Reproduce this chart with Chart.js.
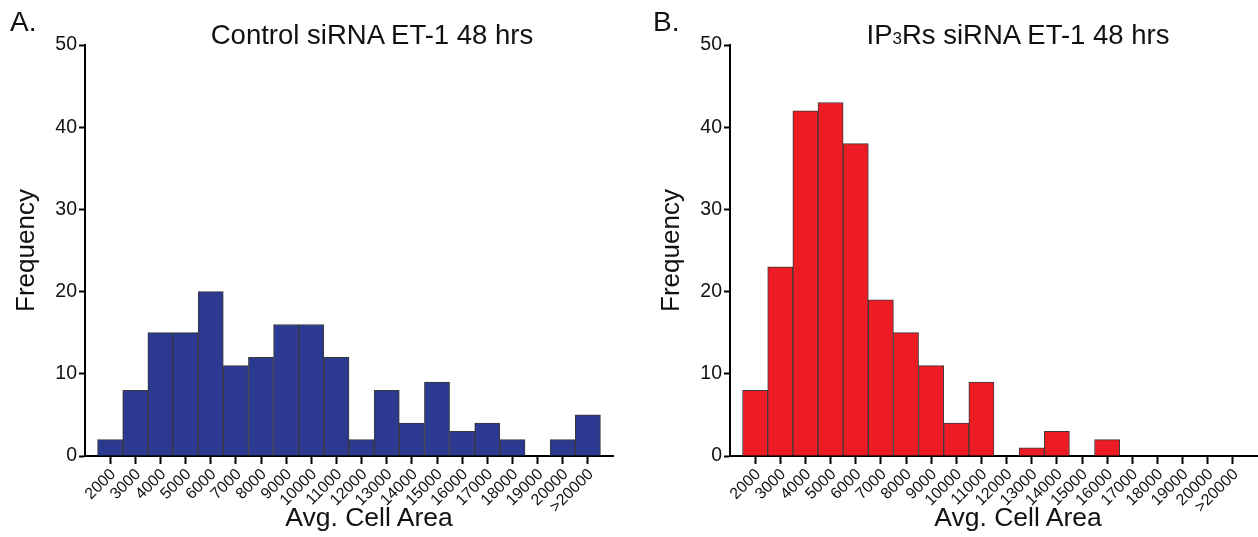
<!DOCTYPE html>
<html>
<head>
<meta charset="utf-8">
<script src="https://cdn.jsdelivr.net/npm/chart.js@4.4.1/dist/chart.umd.min.js"></script>
<style>
  body { margin: 0; background: #fff; font-family: "Liberation Sans", Arial, sans-serif; }
  #wrap { position: relative; width: 1258px; height: 537px; overflow: hidden; }
  .cv { position: absolute; top: 0; }
  .txt { position: absolute; line-height: 1; white-space: nowrap; color: #111; }
  .ctr { transform: translateX(-50%); }
</style>
</head>
<body>
<div id="wrap">
  <div class="cv" style="left:0;width:630px;height:537px;"><canvas id="chartA"></canvas></div>
  <div class="cv" style="left:645px;width:613px;height:537px;"><canvas id="chartB"></canvas></div>

  <div class="txt" style="left:10px;top:8px;font-size:28px;">A.</div>
  <div class="txt ctr" style="left:372px;top:21px;font-size:27.5px;">Control siRNA ET-1 48 hrs</div>
  <div class="txt ctr" style="left:369px;top:504px;font-size:26.5px;">Avg. Cell Area</div>

  <div class="txt" style="left:653px;top:8px;font-size:28px;">B.</div>
  <div class="txt ctr" style="left:1018px;top:21px;font-size:27.5px;">IP<span style="font-size:0.62em">3</span>Rs siRNA ET-1 48 hrs</div>
  <div class="txt ctr" style="left:1018px;top:504px;font-size:26.5px;">Avg. Cell Area</div>
</div>

<script>
// Intervalos de area (etiquetas del eje x)
var binLabels = ['2000', '3000', '4000', '5000', '6000', '7000', '8000', '9000', '10000', '11000',
                 '12000', '13000', '14000', '15000', '16000', '17000', '18000', '19000', '20000', '>20000'];

// Frecuencias
var controlCounts = [2, 8, 15, 15, 20, 11, 12, 16, 16, 12, 2, 8, 4, 9, 3, 4, 2, 0, 2, 5];
var ip3rCounts = [8, 23, 42, 43, 38, 19, 15, 11, 4, 9, 0, 1, 3, 0, 2, 0, 0, 0, 0, 0];

var yTicks = [0, 10, 20, 30, 40, 50];

var fontFamily = '"Liberation Sans", Arial, sans-serif';

function makeHistogram(canvasId, counts, color, padRight) {
    var ctx = document.getElementById(canvasId).getContext('2d');
    return new Chart(ctx, {
        type: 'bar',
        data: {
            datasets: [{
                data: counts.map(function (v, i) { return { x: i, y: v }; }),
                backgroundColor: color,
                borderColor: '#3a3a3a',
                borderWidth: 1,
                categoryPercentage: 1.0,
                barPercentage: 1.0,
                grouped: false
            }]
        },
        options: {
            responsive: true,
            maintainAspectRatio: false,
            animation: false,
            layout: { padding: { top: 45, right: padRight, bottom: 0, left: 0 } },
            plugins: {
                legend: { display: false },
                tooltip: { enabled: false }
            },
            scales: {
                x: {
                    type: 'linear',
                    offset: false,
                    min: -1,
                    max: 20,
                    afterBuildTicks: function (scale) {
                        scale.ticks = scale.ticks.filter(function (t) {
                            return t.value >= 0 && t.value < binLabels.length;
                        });
                    },
                    afterFit: function (scale) { scale.height = 81; },
                    border: { display: true, color: '#000', width: 2 },
                    grid: { display: true, offset: false, drawOnChartArea: false, drawTicks: true, tickLength: 8, tickColor: '#000', tickWidth: 2 },
                    ticks: {
                        stepSize: 1,
                        autoSkip: false,
                        minRotation: 45,
                        maxRotation: 45,
                        padding: 1,
                        labelOffset: 3,
                        color: '#111',
                        font: { family: fontFamily, size: 16 },
                        callback: function (value) { return binLabels[value]; }
                    }
                },
                y: {
                    min: 0,
                    max: 50,
                    afterBuildTicks: function (scale) {
                        scale.ticks = yTicks.map(function (v) { return { value: v }; });
                    },
                    afterFit: function (scale) { scale.width = 85; },
                    border: { display: true, color: '#000', width: 2 },
                    grid: { display: true, drawOnChartArea: false, drawTicks: true, tickLength: 6, tickColor: '#000', tickWidth: 2 },
                    ticks: {
                        padding: 2,
                        color: '#111',
                        font: { family: fontFamily, size: 19.5 }
                    },
                    title: {
                        display: true,
                        text: 'Frequency',
                        color: '#111',
                        font: { family: fontFamily, size: 26 },
                        padding: { top: 11, bottom: 0 }
                    }
                }
            }
        }
    });
}

makeHistogram('chartA', controlCounts, '#2b3990', 17);
makeHistogram('chartB', ip3rCounts, '#ed1c24', 0);
</script>
</body>
</html>
